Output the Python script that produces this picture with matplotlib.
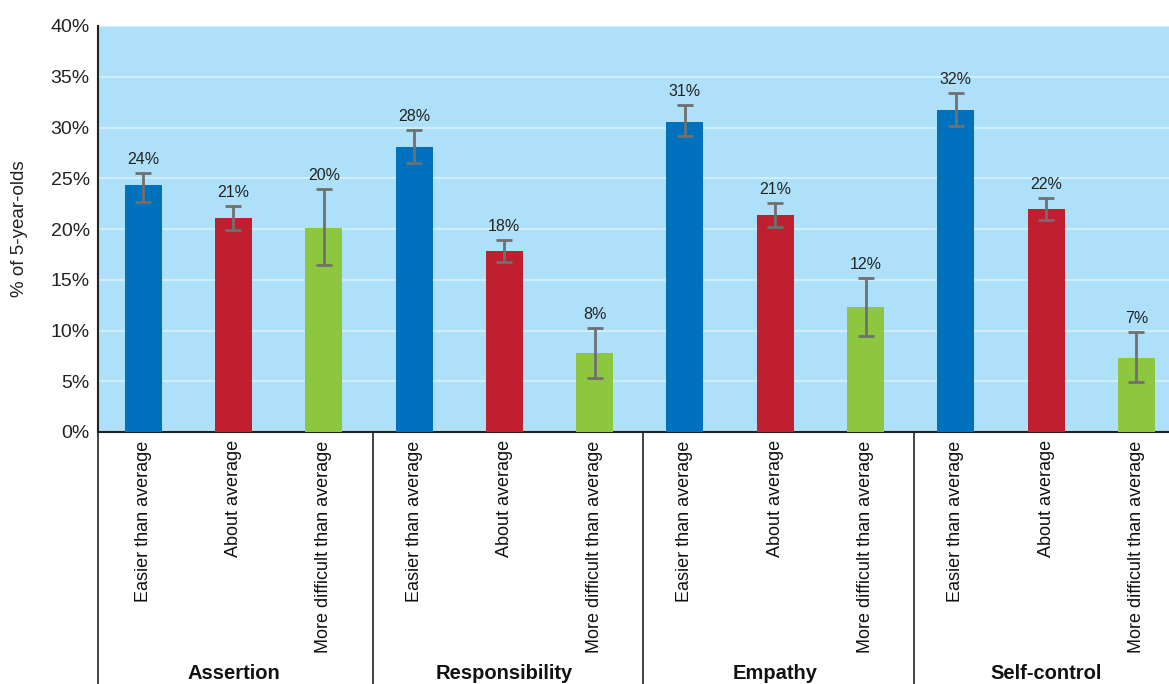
import numpy as np
import matplotlib
matplotlib.use("Agg")
import matplotlib.pyplot as plt
import matplotlib.transforms as mtransforms

plt.rcParams["font.family"] = ["Liberation Sans", "DejaVu Sans"]

# --- Data -----------------------------------------------------------
groups = ["Assertion", "Responsibility", "Empathy", "Self-control"]
levels = ["Easier than average", "About average", "More difficult than average"]
values = [24.3, 21.1, 20.1,
          28.1, 17.8, 7.8,
          30.5, 21.4, 12.3,
          31.7, 22.0, 7.3]
err_low = [22.7, 19.9, 16.45,
           26.5, 16.75, 5.3,
           29.2, 20.2, 9.45,
           30.1, 20.9, 4.9]
err_high = [25.5, 22.3, 23.9,
            29.75, 18.9, 10.25,
            32.2, 22.6, 15.2,
            33.4, 23.05, 9.85]
labels = ["24%", "21%", "20%",
          "28%", "18%", "8%",
          "31%", "21%", "12%",
          "32%", "22%", "7%"]
colors = ["#0071bc", "#c01f2f", "#8dc63f"]

# --- Plot -----------------------------------------------------------
fig = plt.figure(figsize=(11.69, 6.84), dpi=100)
ax = fig.add_axes([98/1169, (684-432)/684, (1169-98)/1169, (432-26)/684])
ax.set_facecolor("#aee0f9")

x = np.arange(len(values))
vals = np.array(values)
lo = vals - np.array(err_low)
hi = np.array(err_high) - vals
bar_colors = [colors[i % 3] for i in range(len(values))]

ax.bar(x, vals, width=0.41, color=bar_colors, zorder=3)
ax.errorbar(x, vals, yerr=[lo, hi], fmt="none", ecolor="#707070",
            elinewidth=2, capsize=6, capthick=2, zorder=4)
for xi, top, lab in zip(x, err_high, labels):
    ax.text(xi, top + 0.6, lab, ha="center", va="bottom", fontsize=11.5, color="#222222")

ax.set_xlim(-0.5, 11.36)
ax.set_ylim(0, 40)
ax.set_yticks(np.arange(0, 41, 5))
ax.set_yticklabels([f"{v}%" for v in range(0, 41, 5)], fontsize=14, color="#222222")
ax.yaxis.grid(True, color="#cdeefc", linewidth=1.5, zorder=0)
ax.set_axisbelow(True)
ax.tick_params(axis="both", length=0, pad=6)
ax.set_ylabel("% of 5-year-olds", fontsize=13.5, labelpad=16, color="#222222")

ax.set_xticks(x)
ax.set_xticklabels([levels[i % 3] for i in range(len(values))], rotation=90,
                   fontsize=13, va="top", color="#111111")

for s in ["top", "right"]:
    ax.spines[s].set_visible(False)
ax.spines["left"].set_color("#222222")
ax.spines["left"].set_linewidth(1.5)
ax.spines["bottom"].set_color("#222222")
ax.spines["bottom"].set_linewidth(1.5)

trans = mtransforms.blended_transform_factory(ax.transData, ax.transAxes)
for sx in [-0.5, 2.55, 5.54, 8.54]:
    ax.plot([sx, sx], [0, -0.7], transform=trans, color="#222222",
            linewidth=1.2, clip_on=False)

for gi, g in enumerate(groups):
    ax.text(gi*3 + 1, -0.595, g, transform=trans, ha="center", va="center",
            fontsize=14.5, fontweight="bold", color="#111111")

fig.savefig("out.png", dpi=100)
